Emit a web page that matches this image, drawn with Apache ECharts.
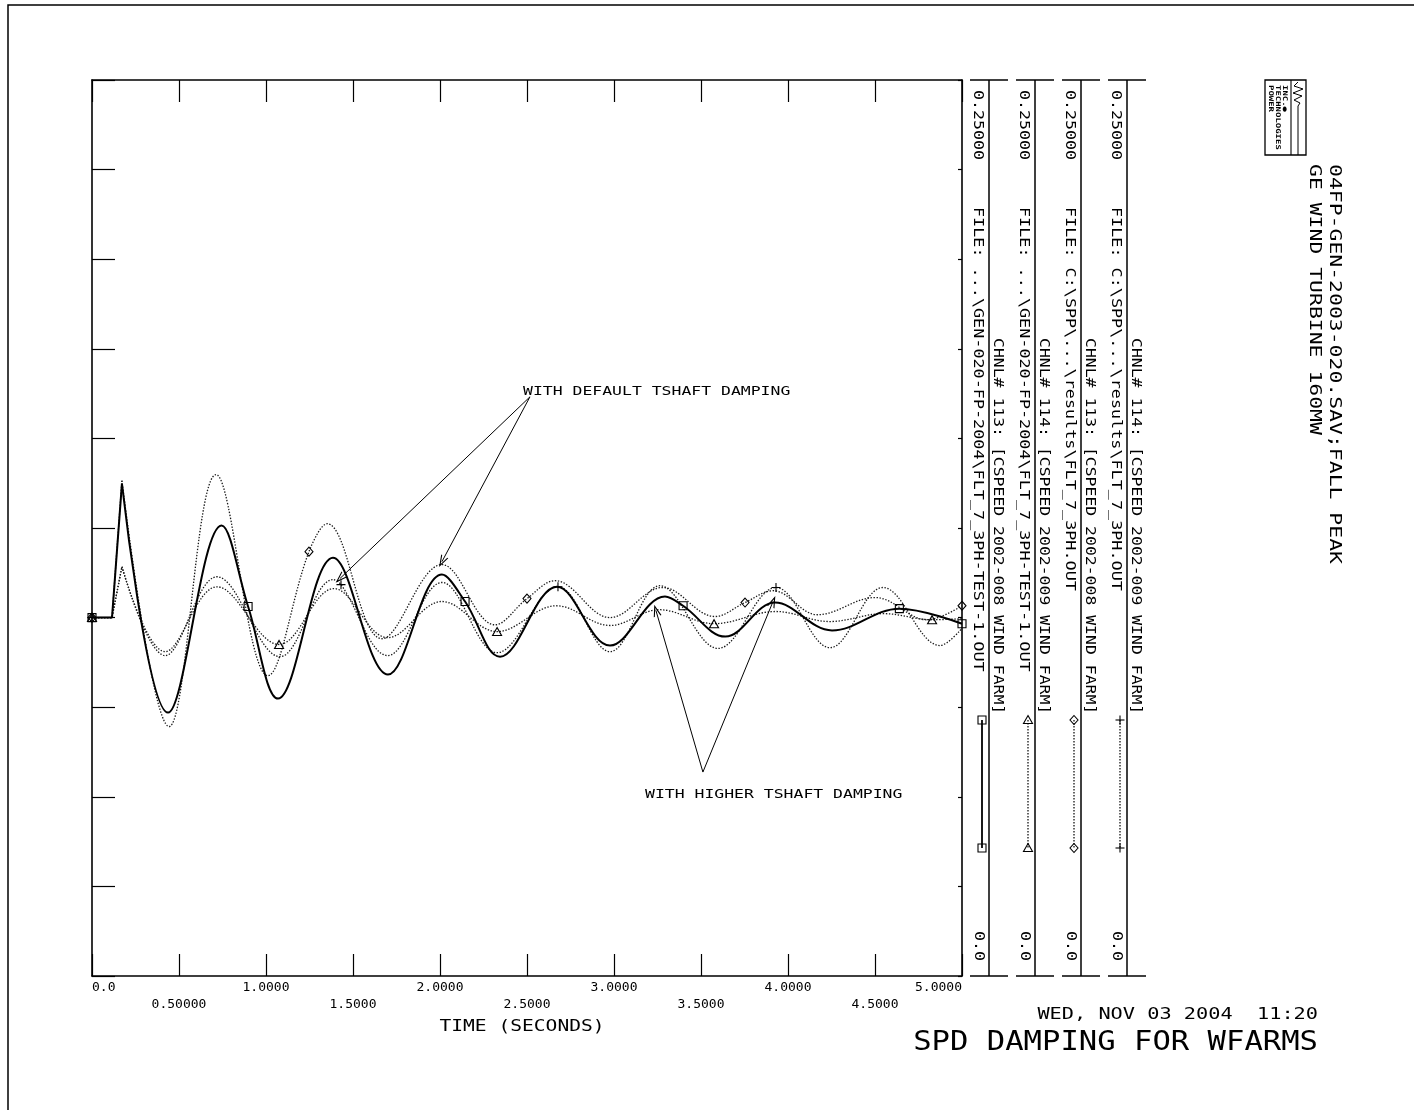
<!DOCTYPE html>
<html>
<head>
<meta charset="UTF-8">
<title>SPD DAMPING FOR WFARMS</title>
<script src="https://cdn.jsdelivr.net/npm/echarts@6/dist/echarts.min.js"></script>
<style>
  html, body { margin: 0; padding: 0; background: #fff; }
  #chart { width: 1414px; height: 1110px; }
</style>
</head>
<body>
<div id="chart"></div>
<script>
// x axis tick labels, TIME (SECONDS)
var timeLabels = ['0.0', '0.50000', '1.0000', '1.5000', '2.0000', '2.5000',
                  '3.0000', '3.5000', '4.0000', '4.5000', '5.0000'];

// CHNL# 113, ...\GEN-020-FP-2004\FLT_7_3PH-TEST-1.OUT (higher damping) - solid, squares
var t113Test = [0, 0.115, 0.172, 0.437, 0.745, 0.897, 1.069, 1.385, 1.701, 2.011, 2.144, 2.345,
                2.672, 2.977, 3.293, 3.397, 3.640, 3.925, 4.253, 4.640, 5.000];
var v113Test = [0.1000, 0.1000, 0.1374, 0.0735, 0.1257, 0.1031, 0.0774, 0.1167, 0.0841, 0.1120, 0.1045, 0.0891,
                0.1086, 0.0922, 0.1059, 0.1033, 0.0947, 0.1042, 0.0964, 0.1025, 0.0983];
var m113Test = [0, 0.897, 2.144, 3.397, 4.640, 5.000];

// CHNL# 114, ...\GEN-020-FP-2004\FLT_7_3PH-TEST-1.OUT (higher damping) - triangles
var t114Test = [0, 0.115, 0.172, 0.420, 0.718, 1.075, 1.390, 1.700, 2.011, 2.328, 2.670, 2.977,
                3.260, 3.575, 3.930, 4.240, 4.550, 4.828, 5.000];
var v114Test = [0.1000, 0.1000, 0.1142, 0.0905, 0.1086, 0.0925, 0.1081, 0.0944, 0.1045, 0.0961, 0.1033, 0.0978,
                0.1022, 0.0983, 0.1017, 0.0989, 0.1011, 0.0994, 0.0997];
var m114Test = [0, 1.075, 2.328, 3.575, 4.828];

// CHNL# 113, C:\SPP\...\results\FLT_7_3PH.OUT (default damping) - diamonds
var t113Base = [0, 0.115, 0.172, 0.443, 0.713, 1.011, 1.247, 1.351, 1.667, 2.011, 2.316, 2.500,
                2.661, 2.977, 3.280, 3.580, 3.753, 3.914, 4.170, 4.500, 4.800, 5.000];
var v113Base = [0.1000, 0.1000, 0.1382, 0.0696, 0.1399, 0.0838, 0.1184, 0.1262, 0.0941, 0.1148, 0.0980, 0.1053,
                0.1103, 0.1000, 0.1084, 0.1003, 0.1042, 0.1075, 0.1008, 0.1056, 0.0994, 0.1033];
var m113Base = [0, 1.247, 2.500, 3.753, 5.000];

// CHNL# 114, C:\SPP\...\results\FLT_7_3PH.OUT (default damping) - plus
var t114Base = [0, 0.115, 0.172, 0.420, 0.718, 1.080, 1.385, 1.431, 1.701, 2.011, 2.328, 2.678,
                2.977, 3.264, 3.598, 3.931, 4.241, 4.546, 4.874, 5.000];
var v114Base = [0.1000, 0.1000, 0.1142, 0.0894, 0.1114, 0.0891, 0.1106, 0.1092, 0.0894, 0.1098, 0.0902, 0.1086,
                0.0905, 0.1089, 0.0914, 0.1084, 0.0916, 0.1084, 0.0922, 0.0970];
var m114Base = [0, 1.431, 2.678, 3.931];

// legend block texts (one column per channel)
var channelLabels = ['CHNL# 113: [CSPEED 2002-008 WIND FARM]', 'CHNL# 114: [CSPEED 2002-009 WIND FARM]',
                     'CHNL# 113: [CSPEED 2002-008 WIND FARM]', 'CHNL# 114: [CSPEED 2002-009 WIND FARM]'];
var fileLabels = ['FILE: ...\\GEN-020-FP-2004\\FLT_7_3PH-TEST-1.OUT', 'FILE: ...\\GEN-020-FP-2004\\FLT_7_3PH-TEST-1.OUT',
                  'FILE: C:\\SPP\\...\\results\\FLT_7_3PH.OUT', 'FILE: C:\\SPP\\...\\results\\FLT_7_3PH.OUT'];
var scaleTop = '0.25000';
var scaleBottom = '0.0';

// annotation arrows: [fromT, fromV, toT, toV]
var defaultArrows = [[2.517, 0.1616, 1.425, 0.1109], [2.517, 0.1616, 2.011, 0.1156]];
var higherArrows = [[3.511, 0.0569, 3.241, 0.1020], [3.511, 0.0569, 3.914, 0.1045]];

var MONO = '"DejaVu Sans Mono", monospace';
var PLUS = 'path://M5,0L5,10M0,5L10,5';
var ARROW = 'path://M5,0L10,12L8.6,12L5,3.5L1.4,12L0,12Z';

var chart = echarts.init(document.getElementById('chart'));

function pts(ts, vs, marks) {
    return ts.map(function (t, i) { return [t, vs[i], marks.indexOf(t) >= 0 ? 1 : 0]; });
}

// step + kick drawn straight, the swings after it smoothed
function curve(name, ts, vs, marks, shape, size, lineStyle, z) {
    var all = pts(ts, vs, marks);
    var common = {
        type: 'line', name: name, showAllSymbol: true, silent: true, z: z,
        symbol: function (v) { return v[2] ? shape : 'none'; },
        symbolSize: size,
        lineStyle: lineStyle,
        itemStyle: { color: 'rgba(0,0,0,0)', borderColor: '#000', borderWidth: 1.1 },
        emphasis: { disabled: true }
    };
    return [
        Object.assign({}, common, { data: all.slice(0, 3), smooth: false }),
        Object.assign({}, common, { data: all.slice(2), smooth: 0.37 })
    ];
}

var dotted = { color: '#1a1a1a', width: 1.3, type: [1.4, 1.6] };
var series = [].concat(
    curve('113 base', t113Base, v113Base, m113Base, 'diamond', [8, 9], dotted, 2),
    curve('114 base', t114Base, v114Base, m114Base, PLUS, 9, dotted, 2),
    curve('114 test', t114Test, v114Test, m114Test, 'triangle', [9, 8], dotted, 2),
    curve('113 test', t113Test, v113Test, m113Test, 'rect', 8, { color: '#000', width: 2 }, 3)
);

function arrowData(list) {
    return list.map(function (a) { return [{ coord: [a[0], a[1]] }, { coord: [a[2], a[3]] }]; });
}
series[series.length - 1].markLine = {
    silent: true, animation: false,
    symbol: ['none', ARROW], symbolSize: [8, 12],
    label: { show: false },
    lineStyle: { color: '#000', width: 1, type: 'solid' },
    emphasis: { disabled: true },
    data: arrowData(defaultArrows).concat(arrowData(higherArrows))
};

// ---- page furniture drawn as graphic elements ----
function txt(x, y, s, size, pitch, opt) {
    opt = opt || {};
    return {
        type: 'text', x: x, y: y, silent: true, z: 10,
        rotation: opt.vertical ? -Math.PI / 2 : 0,
        scaleX: pitch / (size * 0.602),
        style: {
            text: s, fontFamily: MONO, fontSize: size, fontWeight: opt.bold ? 'bold' : 'normal',
            fill: '#000', align: opt.align || 'left', verticalAlign: 'middle'
        }
    };
}
function seg(x1, y1, x2, y2, w, dash) {
    return { type: 'line', silent: true, shape: { x1: x1, y1: y1, x2: x2, y2: y2 },
             style: { stroke: '#000', lineWidth: w || 1.2, lineDash: dash || null } };
}
function marker(kind, cx, cy) {
    var st = { fill: 'none', stroke: '#000', lineWidth: 1.1 };
    if (kind === 'square') return [{ type: 'rect', silent: true, shape: { x: cx - 4, y: cy - 4, width: 8, height: 8 }, style: st }];
    if (kind === 'triangle') return [{ type: 'polygon', silent: true, shape: { points: [[cx, cy - 4.5], [cx + 4.5, cy + 3.5], [cx - 4.5, cy + 3.5]] }, style: st }];
    if (kind === 'diamond') return [{ type: 'polygon', silent: true, shape: { points: [[cx, cy - 4.5], [cx + 4, cy], [cx, cy + 4.5], [cx - 4, cy]] }, style: st }];
    return [seg(cx - 4.5, cy, cx + 4.5, cy, 1.1), seg(cx, cy - 4.5, cx, cy + 4.5, 1.1)];
}

var g = [];
g.push({ type: 'rect', silent: true, shape: { x: 8, y: 5, width: 1500, height: 1200 },
         style: { fill: 'none', stroke: '#000', lineWidth: 1.5 } });

var colX = [970, 1016, 1062, 1108];
var colMarker = ['square', 'triangle', 'diamond', 'plus'];
colX.forEach(function (x0, i) {
    g.push(seg(x0, 80, x0 + 38, 80, 1.5));
    g.push(seg(x0, 976, x0 + 38, 976, 1.5));
    g.push(seg(x0 + 19, 80, x0 + 19, 976, 1.5));
    g.push(txt(x0 + 8, 90, scaleTop, 14, 10, { vertical: true }));
    g.push(txt(x0 + 8, 207, fileLabels[i], 14, 10.1, { vertical: true }));
    g.push(txt(x0 + 28, 338, channelLabels[i], 14, 9.9, { vertical: true }));
    g.push(txt(x0 + 9, 931, scaleBottom, 14, 10, { vertical: true }));
    var sx = x0 + 12;
    g.push(seg(sx, 720, sx, 848, i === 0 ? 1.8 : 1.2, i === 0 ? null : [1.4, 1.6]));
    g = g.concat(marker(colMarker[i], sx, 720), marker(colMarker[i], sx, 848));
});

// header block with logo
g.push({ type: 'rect', silent: true, shape: { x: 1265, y: 80, width: 41, height: 75 },
         style: { fill: 'none', stroke: '#000', lineWidth: 1.3 } });
g.push(seg(1291, 80, 1291, 155, 1.1));
g.push({ type: 'polyline', silent: true,
         shape: { points: [[1298, 82], [1294, 86], [1303, 89], [1293, 93], [1302, 96], [1294, 100], [1300, 103], [1298, 106], [1298, 155]] },
         style: { stroke: '#000', fill: 'none', lineWidth: 1 } });
g.push(txt(1271, 85, 'POWER', 6.5, 5.4, { vertical: true, bold: true }));
g.push(txt(1278, 85, 'TECHNOLOGIES', 6.5, 5.4, { vertical: true, bold: true }));
g.push(txt(1285, 85, 'INC.\u25CF', 6.5, 5.4, { vertical: true, bold: true }));
g.push(txt(1334, 164, '04FP-GEN-2003-020.SAV;FALL PEAK', 15, 12.9, { vertical: true }));
g.push(txt(1314, 164, 'GE WIND TURBINE 160MW', 15, 12.9, { vertical: true }));

// footer and axis title
g.push(txt(522, 1027, 'TIME (SECONDS)', 16, 11.8, { align: 'center' }));
g.push(txt(1318, 1015, 'WED, NOV 03 2004  11:20', 16, 12.2, { align: 'right' }));
g.push(txt(1318, 1043, 'SPD DAMPING FOR WFARMS', 26, 18.4, { align: 'right' }));

// annotation captions
g.push(txt(523, 392, 'WITH DEFAULT TSHAFT DAMPING', 13, 9.9));
g.push(txt(645, 795, 'WITH HIGHER TSHAFT DAMPING', 13, 9.9));

var frameLine = { show: true, onZero: false, lineStyle: { color: '#000', width: 1.6 } };

var option = {
    animation: false,
    backgroundColor: '#fff',
    grid: { left: 92, top: 80, width: 870, height: 896, containLabel: false },
    xAxis: [{
        type: 'value', min: 0, max: 5, interval: 0.5, position: 'bottom',
        axisLine: frameLine,
        axisTick: { show: true, inside: true, length: 22, lineStyle: { color: '#000', width: 1.2 } },
        splitLine: { show: false },
        axisLabel: {
            color: '#000', fontFamily: MONO, fontSize: 13, margin: 5,
            alignMinLabel: 'left', alignMaxLabel: 'right',
            formatter: function (val) {
                var i = Math.round(val / 0.5);
                var s = timeLabels[i];
                return i % 2 ? '{lo|' + s + '}' : s;
            },
            rich: { lo: { fontFamily: MONO, fontSize: 13, color: '#000', padding: [17, 0, 0, 0] } }
        }
    }, {
        type: 'value', min: 0, max: 5, interval: 0.5, position: 'top',
        axisLine: frameLine,
        axisTick: { show: true, inside: true, length: 22, lineStyle: { color: '#000', width: 1.2 } },
        splitLine: { show: false },
        axisLabel: { show: false }
    }],
    yAxis: [{
        type: 'value', min: 0, max: 0.25, interval: 0.025, position: 'left',
        axisLine: frameLine,
        axisTick: { show: true, inside: true, length: 23, lineStyle: { color: '#000', width: 1.2 } },
        splitLine: { show: false },
        axisLabel: { show: false }
    }, {
        type: 'value', min: 0, max: 0.25, interval: 0.025, position: 'right',
        axisLine: frameLine,
        axisTick: { show: true, inside: true, length: 4, lineStyle: { color: '#000', width: 1.2 } },
        splitLine: { show: false },
        axisLabel: { show: false }
    }],
    series: series,
    graphic: g
};

chart.setOption(option);
</script>
</body>
</html>
